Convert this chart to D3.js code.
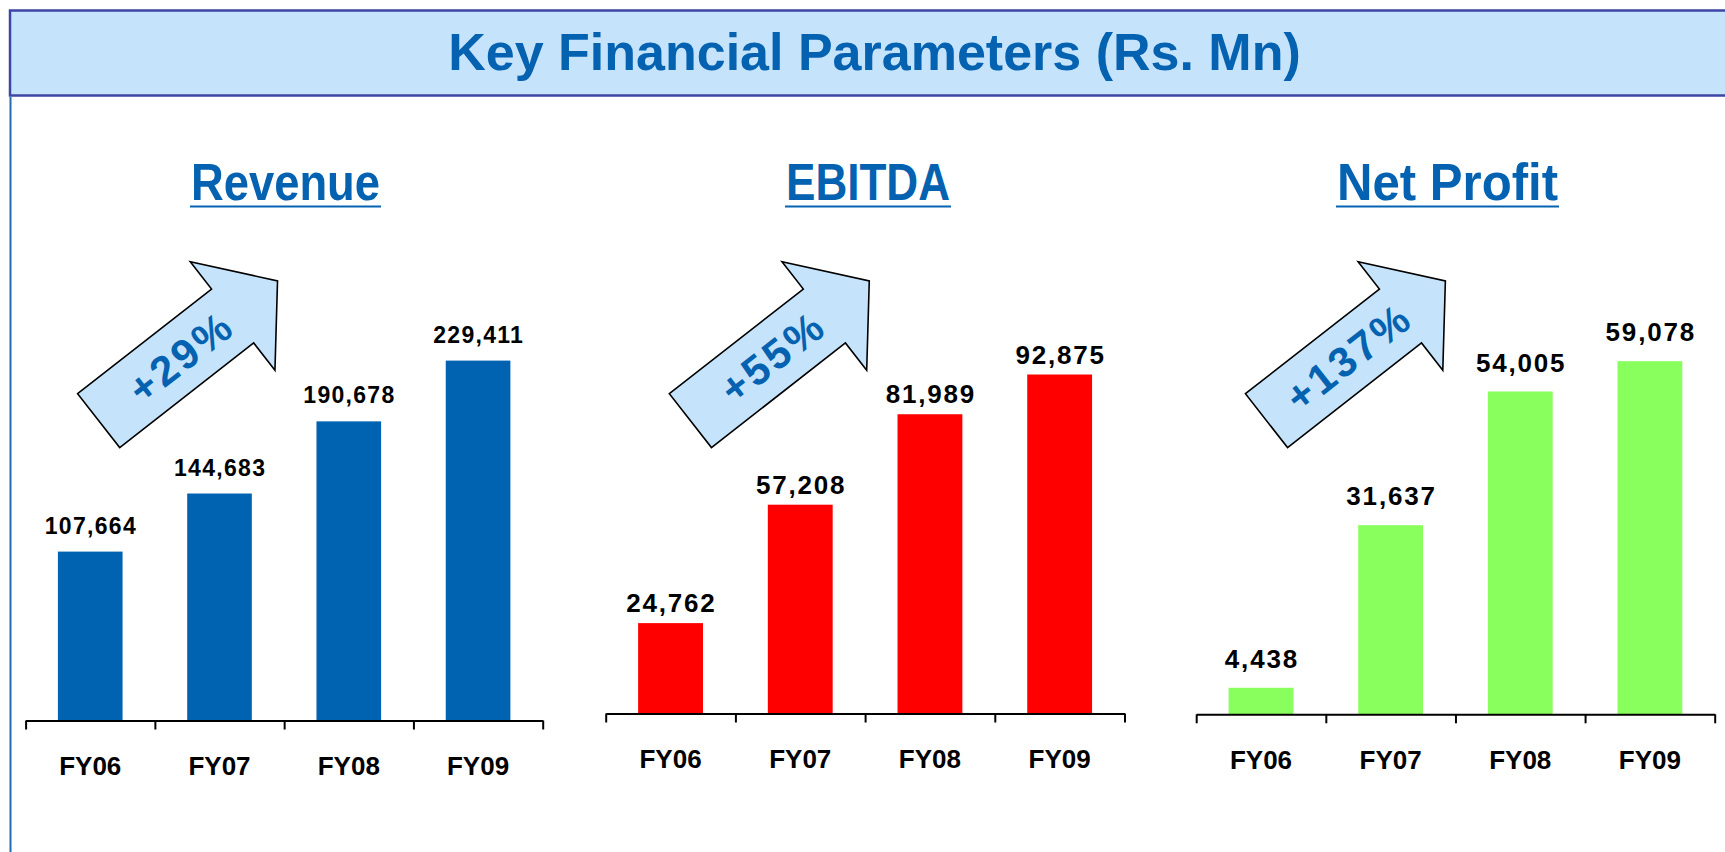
<!DOCTYPE html>
<html>
<head>
<meta charset="utf-8">
<script src="https://cdn.jsdelivr.net/npm/d3@7"></script>
<style>
  body { margin: 0; background: #fff; }
  text { font-family: "Liberation Sans", Arial, sans-serif; font-weight: bold; }
</style>
</head>
<body>
<div id="chart"></div>
<script>
// data
const categories = ["FY06", "FY07", "FY08", "FY09"];
const revenue = [107664, 144683, 190678, 229411];
const ebitda = [24762, 57208, 81989, 92875];
const netProfit = [4438, 31637, 54005, 59078];
const panelTitles = ["Revenue", "EBITDA", "Net Profit"];
const growthLabels = ["+29%", "+55%", "+137%"];
const yMaxes = [250000, 100000, 70000];

const blue = "#0462b1";

// layout of the three small charts
const panels = [
  { values: revenue, color: "#0063b1", x0: 25.6, x1: 542.7, axisY: 720.5, top: 328.3,
    titleX: 285.5, titleW: 189, arrowX: 98.65, labelSize: 23, labelSpacing: 1.3, labelGap: 18 },
  { values: ebitda, color: "#ff0000", x0: 605.7, x1: 1124.5, axisY: 713.5, top: 348.5,
    titleX: 868, titleW: 164, arrowX: 690.4, labelSize: 26, labelSpacing: 1.8, labelGap: 11 },
  { values: netProfit, color: "#88ff5c", x0: 1196.2, x1: 1714.7, axisY: 714.3, top: 295.9,
    titleX: 1447.5, titleW: 221, arrowX: 1266.5, labelSize: 26, labelSpacing: 1.8, labelGap: 20 }
];

const width = 1725, height = 852;

const svg = d3.select("#chart")
  .append("svg")
    .attr("width", width)
    .attr("height", height);

svg.append("rect")
  .attr("width", width)
  .attr("height", height)
  .attr("fill", "#fff");

// header band
svg.append("rect")
  .attr("x", 10)
  .attr("y", 10.5)
  .attr("width", width)
  .attr("height", 85)
  .attr("fill", "#c5e4fb")
  .attr("stroke", "#3d45a5")
  .attr("stroke-width", 2.5);

svg.append("line")
  .attr("x1", 10.5).attr("x2", 10.5)
  .attr("y1", 97).attr("y2", height)
  .attr("stroke", "#1f6db0")
  .attr("stroke-width", 2);

svg.append("text")
  .attr("x", 874.5)
  .attr("y", 70)
  .attr("text-anchor", "middle")
  .style("font-size", "52px")
  .attr("fill", blue)
  .text("Key Financial Parameters (Rs. Mn)");

const fmt = d3.format(",");

// block arrow, tail centre at origin, pointing along +x
const arrowPts = [[0, -34.2], [170, -34.2], [170, -68.75], [227, 0], [170, 68.75], [170, 34.2], [0, 34.2]];

panels.forEach((p, i) => {
  const g = svg.append("g");

  const x = d3.scaleBand()
    .domain(categories)
    .range([p.x0, p.x1])
    .paddingInner(0.5)
    .paddingOuter(0.25);

  const y = d3.scaleLinear()
    .domain([0, yMaxes[i]])
    .range([p.axisY, p.top]);

  // title with underline
  g.append("text")
    .attr("x", p.titleX)
    .attr("y", 200)
    .attr("text-anchor", "middle")
    .attr("textLength", p.titleW)
    .attr("lengthAdjust", "spacingAndGlyphs")
    .style("font-size", "52px")
    .attr("fill", blue)
    .text(panelTitles[i]);
  g.append("line")
    .attr("x1", p.titleX - p.titleW / 2 - 1)
    .attr("x2", p.titleX + p.titleW / 2 + 1)
    .attr("y1", 206.5).attr("y2", 206.5)
    .attr("stroke", blue)
    .attr("stroke-width", 2);

  // growth arrow
  const a = g.append("g")
    .attr("transform", `translate(${p.arrowX},420.65) rotate(-38)`);
  a.append("path")
    .attr("d", d3.line()(arrowPts) + "Z")
    .attr("fill", "#c5e4fb")
    .attr("stroke", "#000")
    .attr("stroke-width", 1.6)
    .attr("stroke-linejoin", "miter");
  a.append("text")
    .attr("x", 104)
    .attr("y", 0)
    .attr("dy", "0.36em")
    .attr("text-anchor", "middle")
    .style("font-size", "42px")
    .style("letter-spacing", "3px")
    .attr("fill", blue)
    .text(growthLabels[i]);

  // bars
  g.selectAll(".bar")
    .data(p.values)
    .join("rect")
      .attr("class", "bar")
      .attr("x", (d, j) => x(categories[j]))
      .attr("width", x.bandwidth())
      .attr("y", d => y(d))
      .attr("height", d => y(0) - y(d))
      .attr("fill", p.color);

  // value labels
  g.selectAll(".val")
    .data(p.values)
    .join("text")
      .attr("class", "val")
      .attr("x", (d, j) => x(categories[j]) + x.bandwidth() / 2 + p.labelSpacing / 2)
      .attr("y", d => y(d) - p.labelGap)
      .attr("text-anchor", "middle")
      .style("font-size", p.labelSize + "px")
      .style("letter-spacing", p.labelSpacing + "px")
      .attr("fill", "#000")
      .text(d => fmt(d));

  // axis line with ticks between categories
  const xt = d3.scaleLinear().domain([0, categories.length]).range([p.x0, p.x1]);
  const axis = g.append("g")
    .attr("transform", `translate(0,${p.axisY})`)
    .call(d3.axisBottom(xt)
      .tickValues(d3.range(categories.length + 1))
      .tickSizeInner(9)
      .tickSizeOuter(0)
      .tickFormat(""));
  axis.select(".domain").attr("stroke", "#000").attr("stroke-width", 2);
  axis.selectAll(".tick line").attr("stroke", "#000").attr("stroke-width", 2);

  // category labels
  const cat = g.append("g")
    .attr("transform", `translate(0,${p.axisY})`)
    .call(d3.axisBottom(x).tickSize(0).tickPadding(36.5));
  cat.select(".domain").remove();
  cat.selectAll("text")
    .style("font-size", "26px")
    .style("font-family", "'Liberation Sans', Arial, sans-serif")
    .style("font-weight", "bold")
    .attr("fill", "#000");
});
</script>
</body>
</html>
